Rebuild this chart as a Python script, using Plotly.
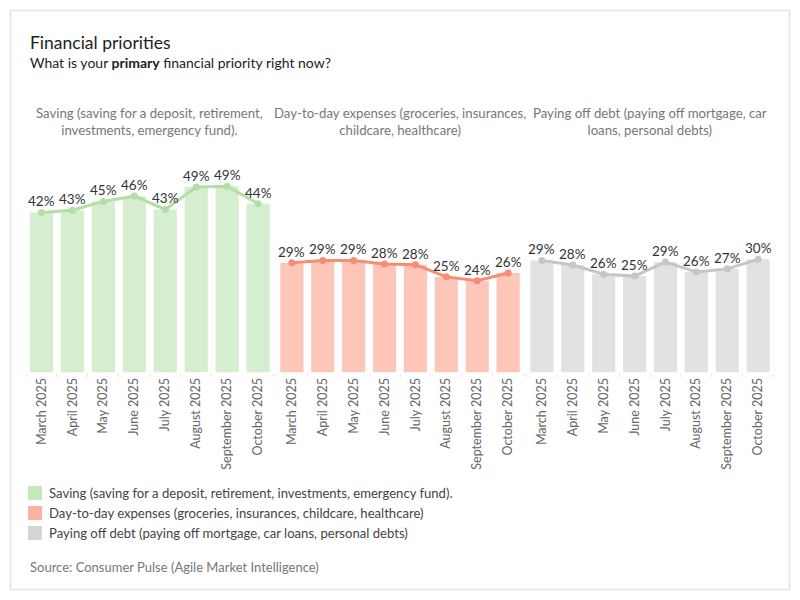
import plotly.graph_objects as go

months = ["March 2025", "April 2025", "May 2025", "June 2025", "July 2025",
          "August 2025", "September 2025", "October 2025"]
series_names = [
    "Saving (saving for a deposit, retirement, investments, emergency fund).",
    "Day-to-day expenses (groceries, insurances, childcare, healthcare)",
    "Paying off debt (paying off mortgage, car loans, personal debts)",
]
panel_headers = [
    "Saving (saving for a deposit, retirement,<br>investments, emergency fund).",
    "Day-to-day expenses (groceries, insurances,<br>childcare, healthcare)",
    "Paying off debt (paying off mortgage, car<br>loans, personal debts)",
]
saving = [42.0, 42.6, 44.9, 46.3, 42.8, 48.7, 48.9, 44.3]
expenses = [28.8, 29.4, 29.4, 28.5, 28.3, 25.1, 24.1, 26.1]
debt = [29.4, 28.2, 25.8, 25.3, 29.0, 26.4, 27.2, 29.7]
values = [saving, expenses, debt]

bar_colors = ["#d6eed0", "#fdc6b9", "#e2e2e2"]
line_colors = ["#b3dea6", "#f68d76", "#c6c6c6"]
legend_colors = ["#c6e8bd", "#fbb2a1", "#d4d4d4"]

FONT = "Lato"
OFF = 8  # page body margin in the browser
W, H = 800 - OFF, 600 - OFF

def px_x(p):
    return (p - OFF) / W

def px_y(p):
    return 1 - (p - OFF) / H

panel_edges = [(24.6, 275.0), (275.0, 525.0), (525.0, 775.0)]
baseline_px = 372.5
top_px = 150.0
scale = 3.81
ymax = (baseline_px - top_px) / scale

fig = go.Figure()
axis_names = ["x", "x2", "x3"]
annotations = []
for i, (vals, ax) in enumerate(zip(values, axis_names)):
    fig.add_trace(go.Bar(
        x=months, y=vals, xaxis=ax, yaxis="y",
        marker=dict(color=bar_colors[i], line=dict(width=0)),
        showlegend=False, hoverinfo="skip",
    ))
    fig.add_trace(go.Scatter(
        x=months, y=vals, xaxis=ax, yaxis="y",
        mode="lines+markers",
        line=dict(color=line_colors[i], width=3),
        marker=dict(color=line_colors[i], size=7),
        cliponaxis=False,
        showlegend=False, hoverinfo="skip",
    ))
    for m, v in zip(months, vals):
        annotations.append(dict(
            x=m, y=v, xref=ax, yref="y", text=f"{v:.0f}%", showarrow=False,
            yshift=11, xanchor="center", yanchor="middle",
            font=dict(family=FONT, size=13.5, color="#333333")))

layout = dict(
    width=W, height=H,
    margin=dict(l=0, r=0, t=0, b=0),
    paper_bgcolor="white", plot_bgcolor="white",
    bargap=0.25,
    font=dict(family=FONT, color="#555555"),
    yaxis=dict(range=[0, ymax], domain=[px_y(baseline_px), px_y(top_px)],
               visible=False, showgrid=False, zeroline=False),
)
for i, key in enumerate(["xaxis", "xaxis2", "xaxis3"]):
    x0, x1 = panel_edges[i]
    layout[key] = dict(
        domain=[px_x(x0), px_x(x1)], anchor="y", type="category",
        tickangle=-90, tickfont=dict(family=FONT, size=12.5, color="#666666"),
        ticks="outside", tickson="boundaries", ticklen=3, tickcolor="#e6e6e6",
        ticklabelstandoff=2,
        showline=False, showgrid=False, zeroline=False, fixedrange=True,
    )
fig.update_layout(**layout)

annotations += [
    dict(text="Financial priorities", x=px_x(28), y=px_y(43), xref="paper", yref="paper",
         xanchor="left", yanchor="middle", showarrow=False,
         font=dict(family=FONT, size=17.5, color="#222222")),
    dict(text="What is your <b>primary</b> financial priority right now?", x=px_x(28), y=px_y(62),
         xref="paper", yref="paper", xanchor="left", yanchor="middle", showarrow=False,
         font=dict(family=FONT, size=14, color="#222222")),
    dict(text="Source: Consumer Pulse (Agile Market Intelligence)", x=px_x(28), y=px_y(567),
         xref="paper", yref="paper", xanchor="left", yanchor="middle", showarrow=False,
         font=dict(family=FONT, size=13, color="#777777")),
]
for i, hdr in enumerate(panel_headers):
    x0, x1 = panel_edges[i]
    annotations.append(dict(
        text=hdr, x=px_x((x0 + x1) / 2), y=px_y(121), xref="paper", yref="paper",
        xanchor="center", yanchor="middle", showarrow=False, align="center",
        font=dict(family=FONT, size=13.2, color="#777777")))

shapes = [dict(type="rect", xref="paper", yref="paper",
               x0=px_x(10.5), x1=px_x(789.5), y0=px_y(10.5), y1=px_y(589.5),
               line=dict(color="#e4e4e4", width=1.5), fillcolor="rgba(0,0,0,0)", layer="below")]
for i, name in enumerate(series_names):
    cy = 493 + 20 * i
    shapes.append(dict(type="rect", xref="paper", yref="paper",
                       x0=px_x(28), x1=px_x(42), y0=px_y(cy - 7), y1=px_y(cy + 7),
                       line=dict(width=0), fillcolor=legend_colors[i]))
    annotations.append(dict(text=name, x=px_x(47), y=px_y(cy), xref="paper", yref="paper",
                            xanchor="left", yanchor="middle", showarrow=False,
                            font=dict(family=FONT, size=13.1, color="#444444")))

fig.update_layout(annotations=annotations, shapes=shapes)
fig.write_html("out.html")
